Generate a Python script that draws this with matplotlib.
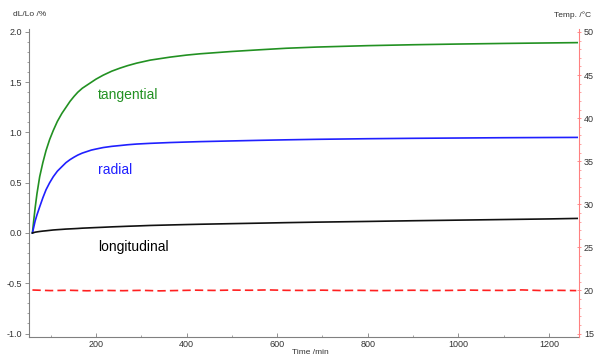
import numpy as np
import matplotlib.pyplot as plt
from matplotlib.ticker import MultipleLocator, FormatStrFormatter

plt.rcParams['font.family'] = ['Liberation Sans', 'DejaVu Sans']

# Dehnung dL/Lo in % über der Zeit (min)
t_curve = [60, 63, 66, 70, 76, 83, 90, 98, 106, 115, 125, 134, 143, 152, 160, 170, 180,
           190, 200, 216, 235, 253, 270, 290, 320, 364, 400, 430, 500, 562, 620, 688,
           800, 900, 1000, 1100, 1200, 1262]
tangential = [0, 0.13, 0.25, 0.39, 0.56, 0.70, 0.82, 0.93, 1.02, 1.11, 1.19, 1.25, 1.31,
              1.36, 1.40, 1.44, 1.47, 1.50, 1.53, 1.57, 1.61, 1.64, 1.665, 1.69, 1.72,
              1.75, 1.77, 1.783, 1.806, 1.823, 1.838, 1.85, 1.864, 1.873, 1.88, 1.886,
              1.891, 1.894]
radial = [0, 0.06, 0.12, 0.18, 0.26, 0.35, 0.43, 0.50, 0.56, 0.615, 0.66, 0.70, 0.73,
          0.755, 0.775, 0.795, 0.81, 0.825, 0.835, 0.85, 0.862, 0.87, 0.878, 0.885,
          0.892, 0.90, 0.905, 0.909, 0.916, 0.922, 0.927, 0.932, 0.938, 0.942, 0.945,
          0.948, 0.95, 0.951]
longitudinal = [0, 0.004, 0.008, 0.011, 0.015, 0.019, 0.022, 0.026, 0.03, 0.033, 0.036,
                0.039, 0.041, 0.043, 0.045, 0.048, 0.05, 0.052, 0.054, 0.057, 0.061,
                0.064, 0.067, 0.07, 0.075, 0.08, 0.084, 0.087, 0.093, 0.098, 0.103,
                0.108, 0.115, 0.122, 0.128, 0.134, 0.14, 0.145]

# Temperatur (°C)
t_temp = list(range(60, 1261, 40))
temp = [20.05, 19.98, 20.02, 19.96, 20.0, 19.97, 20.01, 19.95, 19.99, 20.03, 20.0,
        20.04, 20.02, 20.06, 20.01, 20.0, 20.03, 19.99, 20.01, 19.98, 20.0, 20.02,
        19.99, 20.0, 20.04, 20.01, 20.0, 20.06, 19.99, 20.01, 19.98]

fig = plt.figure(figsize=(6, 3.62), dpi=100)
ax = fig.add_axes([0.048, 0.069, 0.917, 0.851])

ax.plot(t_curve, tangential, color='#229122', lw=1.2)
ax.plot(t_curve, radial, color='#2020ff', lw=1.2)
ax.plot(t_curve, longitudinal, color='#111111', lw=1.2)

ax.text(204, 1.37, 'tangential', color='#229122', fontsize=10, va='center')
ax.text(204, 0.63, 'radial', color='#2020ff', fontsize=10, va='center')
ax.text(204, -0.14, 'longitudinal', color='black', fontsize=10, va='center')

ax.set_xlim(52, 1266)
ax.set_ylim(-1.035, 2.03)
ax.xaxis.set_major_locator(MultipleLocator(200))
ax.xaxis.set_minor_locator(MultipleLocator(100))
ax.yaxis.set_major_locator(MultipleLocator(0.5))
ax.yaxis.set_minor_locator(MultipleLocator(0.1))
ax.yaxis.set_major_formatter(FormatStrFormatter('%.1f'))

for s in ['top', 'right']:
    ax.spines[s].set_visible(False)
for s in ['left', 'bottom']:
    ax.spines[s].set_color('#808080')
    ax.spines[s].set_linewidth(0.8)

ax.tick_params(axis='both', which='major', labelsize=6.5, colors='#808080',
               labelcolor='#333333', length=3, width=0.6, pad=2)
ax.tick_params(axis='both', which='minor', colors='#808080', length=1.5, width=0.5)
ax.tick_params(axis='x', which='both', direction='in')

ax2 = ax.twinx()
ax2.plot(t_temp, temp, color='#ff2020', lw=1.2, dashes=(5, 2.5))
ax2.set_ylim(15 + (-1.035 + 1) * 35 / 3, 15 + (2.03 + 1) * 35 / 3)
ax2.yaxis.set_major_locator(MultipleLocator(5))
ax2.yaxis.set_minor_locator(MultipleLocator(1))
for s in ['top', 'left', 'bottom']:
    ax2.spines[s].set_visible(False)
ax2.spines['right'].set_color('#ff8080')
ax2.spines['right'].set_linewidth(0.8)
ax2.tick_params(axis='y', which='major', labelsize=6.5, colors='#ff8080',
                labelcolor='#333333', length=3, width=0.6, pad=2, direction='inout')
ax2.tick_params(axis='y', which='minor', colors='#ff8080', length=1.5, width=0.5)

fig.text(13 / 600, 1 - 15 / 362, 'dL/Lo /%', fontsize=6, color='#333333', va='center')
fig.text(591 / 600, 1 - 15 / 362, 'Temp. /°C', fontsize=6, color='#333333',
         va='center', ha='right')
fig.text(310 / 600, 1 - 352 / 362, 'Time /min', fontsize=6, color='#333333',
         va='center', ha='center')

fig.savefig('out.png', dpi=100)
